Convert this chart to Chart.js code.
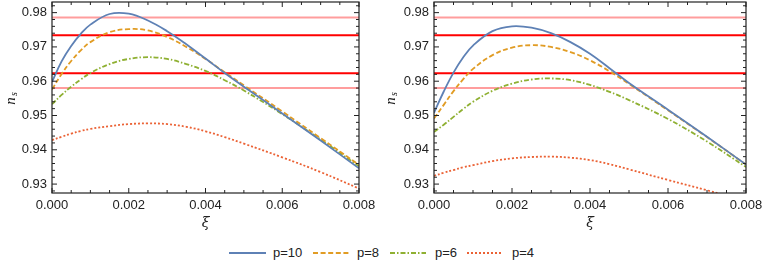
<!DOCTYPE html>
<html lang="en">
<head>
<meta charset="UTF-8">
<title>n_s versus xi</title>
<script src="https://cdn.jsdelivr.net/npm/chart.js"></script>
<style>
  body { margin: 0; background: #fff; font-family: "Liberation Sans", Arial, sans-serif; }
  #wrap { position: relative; width: 763px; height: 268px; overflow: hidden; }
  #c1 { position: absolute; left: 0; top: 0; }
  #c2 { position: absolute; left: 380px; top: 0; }
  .sw { position: absolute; top: 248px; }
  .lb { position: absolute; top: 245px; font-size: 13px; color: #222; line-height: 16px; }
</style>
</head>
<body>
<div id="wrap">
  <canvas id="c1" width="380" height="235"></canvas>
  <canvas id="c2" width="383" height="235"></canvas>

  <svg class="sw" style="left:229px" width="38" height="10"><line x1="0" y1="5" x2="37" y2="5" stroke="#5E81B5" stroke-width="1.8"/></svg>
  <span class="lb" style="left:273px">p=10</span>
  <svg class="sw" style="left:313px" width="38" height="10"><line x1="0" y1="5" x2="37" y2="5" stroke="#E19C24" stroke-width="1.8" stroke-dasharray="5 2.6"/></svg>
  <span class="lb" style="left:357px">p=8</span>
  <svg class="sw" style="left:390px" width="38" height="10"><line x1="0" y1="5" x2="36" y2="5" stroke="#8FB032" stroke-width="1.8" stroke-dasharray="5 2 1.5 2"/></svg>
  <span class="lb" style="left:435px">p=6</span>
  <svg class="sw" style="left:467px" width="38" height="10"><line x1="0" y1="5" x2="34" y2="5" stroke="#EB6235" stroke-width="1.8" stroke-dasharray="2 2"/></svg>
  <span class="lb" style="left:512px">p=4</span>
</div>
<script>
// xi sample points
const xi = [0, 0.00025, 0.0005, 0.00075, 0.001, 0.0015, 0.002, 0.0025, 0.003, 0.0035, 0.004, 0.0045, 0.005, 0.006, 0.007, 0.008];

// left panel
const leftP10 = [0.9598, 0.9658, 0.9703, 0.9738, 0.9765, 0.9796, 0.9797, 0.9777, 0.9746, 0.9708, 0.9666, 0.9624, 0.9584, 0.9506, 0.9427, 0.9346];
const leftP8  = [0.9576, 0.9621, 0.9659, 0.9690, 0.9714, 0.9743, 0.9752, 0.9748, 0.9729, 0.9700, 0.9665, 0.9626, 0.9588, 0.9512, 0.9434, 0.9356];
const leftP6  = [0.9533, 0.9560, 0.9584, 0.9605, 0.9624, 0.9650, 0.9665, 0.9670, 0.9665, 0.9650, 0.9630, 0.9603, 0.9573, 0.9504, 0.9430, 0.9352];
const leftP4  = [0.9428, 0.9438, 0.9447, 0.9455, 0.9461, 0.9469, 0.9475, 0.9477, 0.9475, 0.9467, 0.9454, 0.9437, 0.9418, 0.9378, 0.9335, 0.9287];

// right panel
const rightP10 = [0.9508, 0.9570, 0.9625, 0.9670, 0.9704, 0.9746, 0.9760, 0.9756, 0.9740, 0.9714, 0.9680, 0.9638, 0.9595, 0.9517, 0.9438, 0.9357];
const rightP8  = [0.9491, 0.9531, 0.9571, 0.9606, 0.9636, 0.9676, 0.9698, 0.9705, 0.9700, 0.9685, 0.9661, 0.9629, 0.9592, 0.9515, 0.9437, 0.9357];
const rightP6  = [0.9452, 0.9473, 0.9496, 0.9519, 0.9540, 0.9572, 0.9593, 0.9605, 0.9608, 0.9603, 0.9589, 0.9569, 0.9545, 0.9490, 0.9424, 0.9350];
const rightP4  = [0.9324, 0.9333, 0.9341, 0.9349, 0.9355, 0.9367, 0.9375, 0.9379, 0.9380, 0.9377, 0.9370, 0.9358, 0.9343, 0.9312, 0.9282, 0.9250];

// observational bands (inner red, outer pink)
const bandInner = [0.9734, 0.9623];
const bandOuter = [0.9786, 0.9580];

const xTicks = [0, 0.002, 0.004, 0.006, 0.008];
const yTicks = [0.93, 0.94, 0.95, 0.96, 0.97, 0.98];
const xRange = [0, 0.008];
const yRange = [0.9274, 0.9831];

const labels = ['p=10', 'p=8', 'p=6', 'p=4'];
const colors = ['#5E81B5', '#E19C24', '#8FB032', '#EB6235'];
const dashes = [[], [5, 2.6], [5, 2, 1.5, 2], [2, 2]];

const framePlugin = {
  id: 'frame',
  afterDraw(chart) {
    const { ctx, chartArea: a, scales: { x, y } } = chart;
    ctx.save();
    ctx.strokeStyle = '#222';
    ctx.lineWidth = 1.2;
    ctx.strokeRect(a.left, a.top, a.right - a.left, a.bottom - a.top);
    ctx.lineWidth = 1;
    ctx.beginPath();
    for (let i = 0; i <= 16; i++) {
      const px = x.getPixelForValue(i * 0.0005);
      const len = i % 4 === 0 ? 5 : 3;
      ctx.moveTo(px, a.bottom); ctx.lineTo(px, a.bottom - len);
      ctx.moveTo(px, a.top); ctx.lineTo(px, a.top + len);
    }
    for (let i = 0; i <= 30; i++) {
      const v = 0.926 + i * 0.002;
      if (v < yRange[0] || v > yRange[1]) continue;
      const py = y.getPixelForValue(v);
      const len = Math.round(v * 1000) % 10 === 0 ? 5 : 3;
      ctx.moveTo(a.left, py); ctx.lineTo(a.left + len, py);
      ctx.moveTo(a.right, py); ctx.lineTo(a.right - len, py);
    }
    ctx.stroke();

    // axis titles
    ctx.fillStyle = '#222';
    ctx.textAlign = 'center';
    ctx.textBaseline = 'middle';
    ctx.font = 'italic 14px "DejaVu Serif", serif';
    ctx.fillText('ξ', (a.left + a.right) / 2, 223);
    ctx.translate(11, 101);
    ctx.rotate(-Math.PI / 2);
    ctx.font = 'italic 15px "Liberation Serif", serif';
    ctx.fillText('n', 0, 0);
    ctx.font = 'italic 10px "Liberation Serif", serif';
    ctx.fillText('s', 7, 3);
    ctx.restore();
  }
};

function makeChart(id, series, yWidth, padRight) {
  const datasets = [];
  series.forEach((s, i) => {
    datasets.push({
      label: labels[i],
      data: xi.map((x, k) => ({ x: x, y: s[k] })),
      borderColor: colors[i],
      borderWidth: 1.8,
      borderDash: dashes[i],
      pointRadius: 0,
      tension: 0.4,
      fill: false
    });
  });
  bandOuter.forEach(v => datasets.push({
    data: [{ x: xRange[0], y: v }, { x: xRange[1], y: v }],
    borderColor: 'rgba(255,60,60,0.5)', borderWidth: 2, pointRadius: 0
  }));
  bandInner.forEach(v => datasets.push({
    data: [{ x: xRange[0], y: v }, { x: xRange[1], y: v }],
    borderColor: '#FF0000', borderWidth: 1.9, pointRadius: 0
  }));

  return new Chart(document.getElementById(id), {
    type: 'line',
    data: { datasets: datasets },
    options: {
      responsive: false,
      animation: false,
      layout: { padding: { left: 0, right: padRight, top: 2, bottom: 0 }, autoPadding: false },
      plugins: { legend: { display: false }, tooltip: { enabled: false } },
      scales: {
        x: {
          type: 'linear', min: xRange[0], max: xRange[1],
          grid: { display: false, drawTicks: false },
          border: { display: false },
          afterBuildTicks: s => { s.ticks = xTicks.map(v => ({ value: v })); },
          afterFit: s => { s.height = 42; s.paddingLeft = 0; s.paddingRight = 0; },
          ticks: {
            padding: 5, maxRotation: 0, autoSkip: false,
            color: '#222', font: { size: 13, family: '"Liberation Sans", Arial, sans-serif' },
            callback: v => v.toFixed(3)
          }
        },
        y: {
          type: 'linear', min: yRange[0], max: yRange[1],
          grid: { display: false, drawTicks: false },
          border: { display: false },
          afterBuildTicks: s => { s.ticks = yTicks.map(v => ({ value: v })); },
          afterFit: s => { s.width = yWidth; s.paddingTop = 0; s.paddingBottom = 0; },
          ticks: {
            padding: 5, autoSkip: false,
            color: '#222', font: { size: 13, family: '"Liberation Sans", Arial, sans-serif' },
            callback: v => v.toFixed(2)
          }
        }
      }
    },
    plugins: [framePlugin]
  });
}

makeChart('c1', [leftP10, leftP8, leftP6, leftP4], 52, 21);
makeChart('c2', [rightP10, rightP8, rightP6, rightP4], 54, 17);
</script>
</body>
</html>
